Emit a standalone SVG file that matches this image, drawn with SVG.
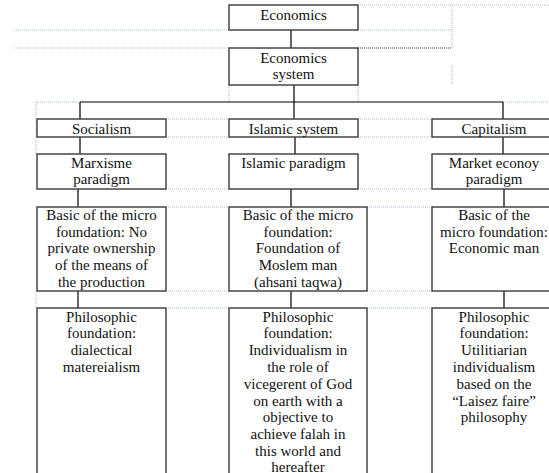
<svg xmlns="http://www.w3.org/2000/svg" width="549" height="473" viewBox="0 0 549 473">
<style>
.box{fill:#fff;stroke:#3a3a3a;stroke-width:1.4}
.t{font-family:'Liberation Serif','DejaVu Serif',serif;font-size:15px;fill:#111;text-anchor:middle}
.c{stroke:#000;stroke-width:1.2;fill:none}
.g{stroke:#a9bad3;stroke-width:1;stroke-dasharray:1 1;fill:none}
.gd{stroke:#333;stroke-width:1;stroke-dasharray:1 1;fill:none}
</style>
<rect width="549" height="473" fill="#fff"/>
<g id="grid">
<path class="g" d="M358 5H549M14 30H229M358 30H452M14 48H229M452 5V48M452 65V85M229 85V102M358 85V102M36 102H80M503 102H549M36 102V155M36 291V308"/>
<path class="g" d="M166 119H229M166 137H229M166 189H229M166 207H229M166 291H229M166 308H229M358 119H432M358 137H432M358 189H432M367 207H432M367 291H432M367 308H432"/>
<path class="gd" d="M358 48H452"/>
</g>
<g id="connectors">
<path class="c" d="M291 30V48M294 85V102M80 102H503M80 102V119M80 137V154M78 189V207M78 291V308M294 102V119M295 137V154M291 189V207M291 291V308M503 102V119M503 137V154M504 189V207M504 291V308"/>
</g>
<g font-family="Liberation Serif, DejaVu Serif, serif">
<g id="economics"><rect class="box" x="229" y="5" width="129" height="25"/><text class="t" x="293.5" y="20">Economics</text></g>
<g id="economics-system"><rect class="box" x="229" y="48" width="129" height="37"/><text class="t" x="293.5" y="63">Economics</text><text class="t" x="293.5" y="79">system</text></g>
<g id="socialism"><rect class="box" x="37" y="119" width="129" height="18"/><text class="t" x="101.5" y="134">Socialism</text></g>
<g id="islamic-system"><rect class="box" x="229" y="119" width="129" height="18"/><text class="t" x="293.5" y="134">Islamic system</text></g>
<g id="capitalism"><rect class="box" x="432" y="119" width="124" height="18"/><text class="t" x="494" y="134">Capitalism</text></g>
<g id="marxisme"><rect class="box" x="37" y="154" width="129" height="35"/><text class="t" x="101.5" y="168">Marxisme</text><text class="t" x="101.5" y="184">paradigm</text></g>
<g id="islamic-paradigm"><rect class="box" x="229" y="154" width="129" height="35"/><text class="t" x="293.5" y="168">Islamic paradigm</text></g>
<g id="market"><rect class="box" x="432" y="154" width="124" height="35"/><text class="t" x="494" y="168">Market econoy</text><text class="t" x="494" y="184">paradigm</text></g>
<g id="micro-socialism"><rect class="box" x="37" y="207" width="129" height="84"/>
<text class="t" x="101.5" y="220">Basic of the micro</text>
<text class="t" x="101.5" y="236.7">foundation: No</text>
<text class="t" x="101.5" y="253.4">private ownership</text>
<text class="t" x="101.5" y="270.1">of the means of</text>
<text class="t" x="101.5" y="286.8">the production</text></g>
<g id="micro-islamic"><rect class="box" x="229" y="207" width="138" height="84"/>
<text class="t" x="298" y="220">Basic of the micro</text>
<text class="t" x="298" y="236.7">foundation:</text>
<text class="t" x="298" y="253.4">Foundation of</text>
<text class="t" x="298" y="270.1">Moslem man</text>
<text class="t" x="298" y="286.8">(ahsani taqwa)</text></g>
<g id="micro-capitalism"><rect class="box" x="432" y="207" width="124" height="84"/>
<text class="t" x="494" y="220">Basic of the</text>
<text class="t" x="494" y="236.7">micro foundation:</text>
<text class="t" x="494" y="253.4">Economic man</text></g>
<g id="philo-socialism"><rect class="box" x="37" y="308" width="129" height="180"/>
<text class="t" x="101.5" y="321.5">Philosophic</text>
<text class="t" x="101.5" y="338.3">foundation:</text>
<text class="t" x="101.5" y="355.1">dialectical</text>
<text class="t" x="101.5" y="371.9">matereialism</text></g>
<g id="philo-islamic"><rect class="box" x="229" y="308" width="138" height="180"/>
<text class="t" x="298" y="321.5">Philosophic</text>
<text class="t" x="298" y="338.3">foundation:</text>
<text class="t" x="298" y="355.1">Individualism in</text>
<text class="t" x="298" y="371.9">the role of</text>
<text class="t" x="298" y="388.7">vicegerent of God</text>
<text class="t" x="298" y="405.5">on earth with a</text>
<text class="t" x="298" y="422.3">objective to</text>
<text class="t" x="298" y="439.1">achieve falah in</text>
<text class="t" x="298" y="455.9">this world and</text>
<text class="t" x="298" y="471.5">hereafter</text></g>
<g id="philo-capitalism"><rect class="box" x="432" y="308" width="124" height="180"/>
<text class="t" x="494" y="321.5">Philosophic</text>
<text class="t" x="494" y="338.3">foundation:</text>
<text class="t" x="494" y="355.1">Utilitiarian</text>
<text class="t" x="494" y="371.9">individualism</text>
<text class="t" x="494" y="388.7">based on the</text>
<text class="t" x="494" y="405.5">“Laisez faire”</text>
<text class="t" x="494" y="422.3">philosophy</text></g>
</g>
</svg>
